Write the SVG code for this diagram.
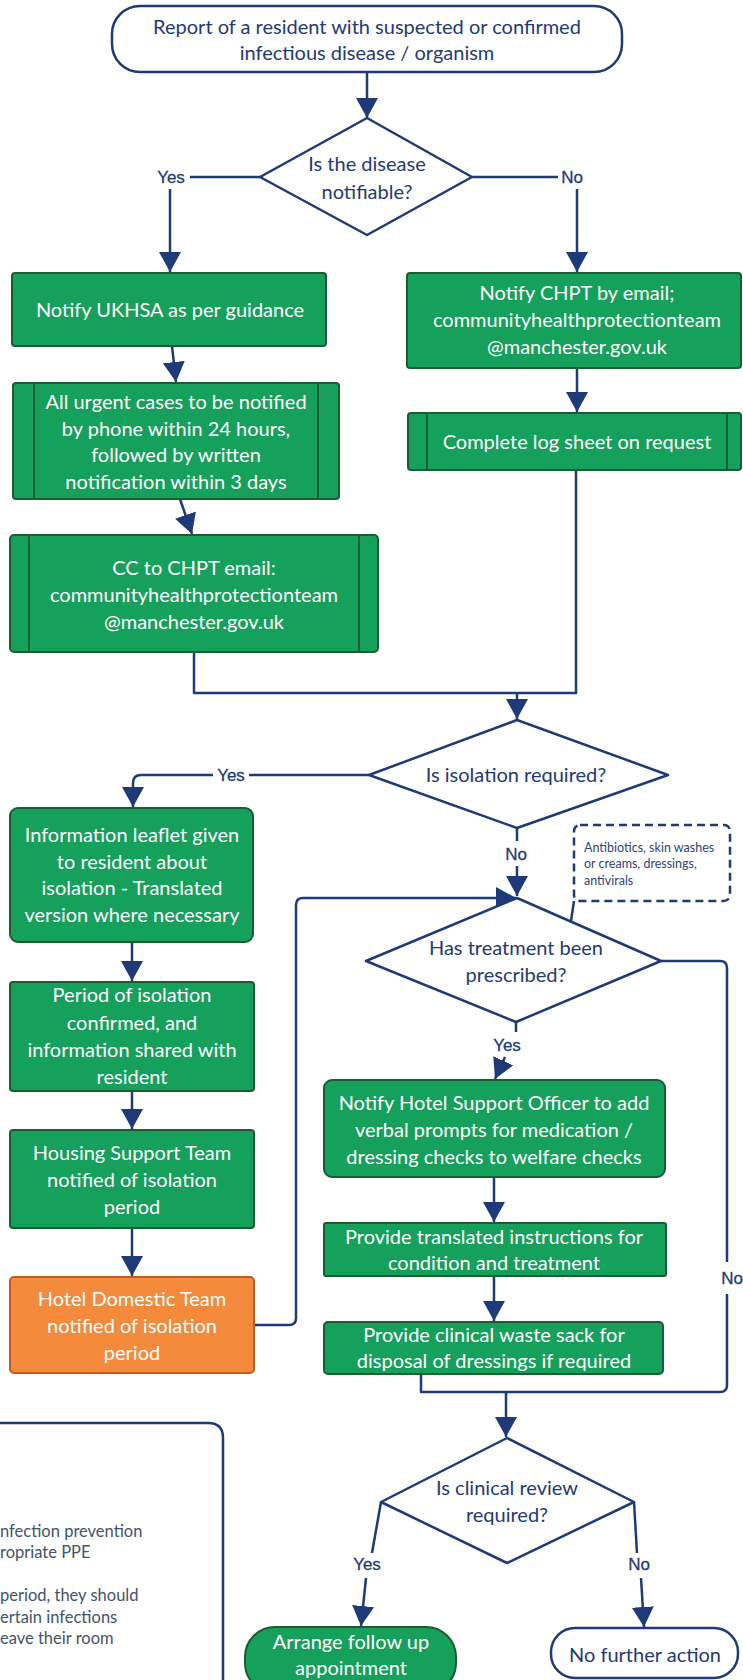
<svg xmlns="http://www.w3.org/2000/svg" width="743" height="1680" viewBox="0 0 743 1680">
<style>
.t{font-family:Lato,"Open Sans","Liberation Sans",sans-serif;font-size:20px;text-anchor:middle}
.w{fill:#ffffff}
.n{fill:#1F3A78}
.g{fill:#15A05B;stroke:#1D5B32;stroke-width:2}
.o{fill:#F48A3C;stroke:#C45A1E;stroke-width:2}
.d{fill:#ffffff;stroke:#1F3A78;stroke-width:2.5;stroke-linejoin:round}
.in{stroke:#1D5B32;stroke-width:2;fill:none}
.c{fill:none;stroke:#1F3A78;stroke-width:2.5;stroke-linejoin:round}
.a{marker-end:url(#ah)}
.lbl{font-family:"Liberation Sans",Arial,sans-serif;font-size:17px;fill:#1F3A78;stroke:#1F3A78;stroke-width:0.3;text-anchor:middle}
.note{font-family:Lato,"Liberation Sans",sans-serif;font-size:12.5px;fill:#2F4478}
.side{font-family:Lato,"Liberation Sans",sans-serif;font-size:16.5px;fill:#44546A}
</style>
<defs>
<marker id="ah" viewBox="0 0 20 22" markerWidth="20" markerHeight="22" refX="20" refY="11" markerUnits="userSpaceOnUse" orient="auto">
<path d="M0,0 L20,11 L0,22 Z" fill="#1F3A78"/>
</marker>
</defs>

<g id="connectors">
<path class="c a" d="M367,72 V118"/>
<path class="c" d="M260,177 H190"/>
<path class="c a" d="M170,189 V272"/>
<path class="c" d="M472,177 H558"/>
<path class="c a" d="M577,189 V272"/>
<path class="c a" d="M172,346 L176,382"/>
<path class="c a" d="M180,499 L192,534"/>
<path class="c a" d="M577,368 V412"/>
<path class="c" d="M194,652 V693 H576 V470"/>
<path class="c a" d="M517,693 V719"/>
<path class="c" d="M369,775 H249"/>
<path class="c a" d="M213,775 H141 Q133,775 133,783 V807"/>
<path class="c" d="M517,828 V841"/>
<path class="c a" d="M517,866 V896"/>
<path class="c a" d="M132,942 V981"/>
<path class="c a" d="M132,1091 V1129"/>
<path class="c a" d="M132,1228 V1276"/>
<path class="c a" d="M254,1325 H289 Q296,1325 296,1318 V905 Q296,898 303,898 H516"/>
<path class="c" d="M574,901 L571,921"/>
<path class="c" d="M516,1022 V1032"/>
<path class="c a" d="M505,1057 L495,1079"/>
<path class="c a" d="M494,1177 V1222"/>
<path class="c a" d="M494,1276 V1321"/>
<path class="c" d="M661,961 H720 Q727,961 727,968 V1262"/>
<path class="c" d="M727,1294 V1385 Q727,1392 720,1392 H421 V1374"/>
<path class="c a" d="M506,1392 V1437"/>
<path class="c" d="M381,1502 L372,1553"/>
<path class="c a" d="M366,1578 L361,1626"/>
<path class="c" d="M634,1502 L637,1553"/>
<path class="c a" d="M641,1578 L644,1627"/>
<text class="lbl" x="171" y="183">Yes</text>
<text class="lbl" x="572" y="183">No</text>
<text class="lbl" x="231" y="781">Yes</text>
<text class="lbl" x="516" y="860">No</text>
<text class="lbl" x="507" y="1051">Yes</text>
<text class="lbl" x="732" y="1284">No</text>
<text class="lbl" x="367" y="1570">Yes</text>
<text class="lbl" x="639" y="1570">No</text>
</g>

<g id="start">
<rect class="d" x="112" y="6" width="510" height="66" rx="28"/>
<text class="t n" x="367" y="33.5">Report of a resident with suspected or confirmed</text>
<text class="t n" x="367" y="59.5">infectious disease / organism</text>
</g>

<g id="q-notifiable">
<path class="d" d="M367,118 L472,177 L367,235 L260,177 Z"/>
<text class="t n" x="367" y="170.5">Is the disease</text>
<text class="t n" x="367" y="198.5">notifiable?</text>
</g>

<g id="notify-ukhsa">
<rect class="g" x="12" y="273" width="314" height="73" rx="3"/>
<text class="t w" x="170" y="316.5">Notify UKHSA as per guidance</text>
</g>

<g id="urgent-cases">
<rect class="g" x="13" y="383" width="326" height="116" rx="3"/>
<path class="in" d="M34,383 V499 M318,383 V499"/>
<text class="t w" x="176" y="409">All urgent cases to be notified</text>
<text class="t w" x="176" y="435.5">by phone within 24 hours,</text>
<text class="t w" x="176" y="462">followed by written</text>
<text class="t w" x="176" y="488.5">notification within 3 days</text>
</g>

<g id="cc-chpt">
<rect class="g" x="10" y="535" width="368" height="117" rx="4"/>
<path class="in" d="M29,535 V652 M359,535 V652"/>
<text class="t w" x="194" y="575">CC to CHPT email:</text>
<text class="t w" x="194" y="602">communityhealthprotectionteam</text>
<text class="t w" x="194" y="629">@manchester.gov.uk</text>
</g>

<g id="notify-chpt">
<rect class="g" x="407" y="273" width="334" height="95" rx="3"/>
<text class="t w" x="577" y="300">Notify CHPT by email;</text>
<text class="t w" x="577" y="327">communityhealthprotectionteam</text>
<text class="t w" x="577" y="354">@manchester.gov.uk</text>
</g>

<g id="log-sheet">
<rect class="g" x="408" y="413" width="333" height="57" rx="3"/>
<path class="in" d="M427,413 V470 M727,413 V470"/>
<text class="t w" x="577" y="448.5">Complete log sheet on request</text>
</g>

<g id="q-isolation">
<path class="d" d="M517,720 L668,775 L517,828 L369,775 Z"/>
<text class="t n" x="516" y="781.5">Is isolation required?</text>
</g>

<g id="info-leaflet">
<rect class="g" x="10" y="808" width="243" height="134" rx="8"/>
<text class="t w" x="132" y="841.5">Information leaflet given</text>
<text class="t w" x="132" y="868.5">to resident about</text>
<text class="t w" x="132" y="894.5">isolation - Translated</text>
<text class="t w" x="132" y="921.5">version where necessary</text>
</g>

<g id="isolation-period">
<rect class="g" x="10" y="982" width="244" height="109" rx="3"/>
<text class="t w" x="132" y="1001.5">Period of isolation</text>
<text class="t w" x="132" y="1029.5">confirmed, and</text>
<text class="t w" x="132" y="1056.5">information shared with</text>
<text class="t w" x="132" y="1083.5">resident</text>
</g>

<g id="housing-team">
<rect class="g" x="10" y="1130" width="244" height="98" rx="3"/>
<text class="t w" x="132" y="1159.5">Housing Support Team</text>
<text class="t w" x="132" y="1186.5">notified of isolation</text>
<text class="t w" x="132" y="1213.5">period</text>
</g>

<g id="domestic-team">
<rect class="o" x="10" y="1277" width="244" height="96" rx="4"/>
<text class="t w" x="132" y="1305.5">Hotel Domestic Team</text>
<text class="t w" x="132" y="1332.5">notified of isolation</text>
<text class="t w" x="132" y="1359.5">period</text>
</g>

<g id="note">
<rect x="574" y="825" width="156" height="76" rx="6" fill="none" stroke="#1F3A78" stroke-width="2.5" stroke-dasharray="8,5"/>
<text class="note" x="584" y="851.5">Antibiotics, skin washes</text>
<text class="note" x="584" y="867.5">or creams, dressings,</text>
<text class="note" x="584" y="884.5">antivirals</text>
</g>

<g id="q-treatment">
<path class="d" d="M517,898 L661,961 L516,1022 L366,961 Z"/>
<text class="t n" x="516" y="954.5">Has treatment been</text>
<text class="t n" x="516" y="981.5">prescribed?</text>
</g>

<g id="notify-hso">
<rect class="g" x="324" y="1080" width="341" height="97" rx="8"/>
<text class="t w" x="494" y="1109.5">Notify Hotel Support Officer to add</text>
<text class="t w" x="494" y="1136.5">verbal prompts for medication /</text>
<text class="t w" x="494" y="1163.5">dressing checks to welfare checks</text>
</g>

<g id="translated-instructions">
<rect class="g" x="324" y="1223" width="342" height="53" rx="2"/>
<text class="t w" x="494" y="1243.5">Provide translated instructions for</text>
<text class="t w" x="494" y="1269.5">condition and treatment</text>
</g>

<g id="waste-sack">
<rect class="g" x="324" y="1322" width="339" height="52" rx="4"/>
<text class="t w" x="494" y="1341.5">Provide clinical waste sack for</text>
<text class="t w" x="494" y="1368">disposal of dressings if required</text>
</g>

<g id="q-review">
<path class="d" d="M507,1438 L634,1502 L507,1563 L381,1502 Z"/>
<text class="t n" x="507" y="1494.5">Is clinical review</text>
<text class="t n" x="507" y="1521.5">required?</text>
</g>

<g id="follow-up">
<rect class="g" x="245" y="1627" width="211" height="66" rx="30"/>
<text class="t w" x="351" y="1648.5">Arrange follow up</text>
<text class="t w" x="351" y="1674.5">appointment</text>
</g>

<g id="no-action">
<rect class="d" x="551" y="1628" width="187" height="50" rx="24"/>
<text class="t n" x="645" y="1661.5">No further action</text>
</g>

<g id="side-note">
<path class="c" d="M-5,1423 H208 Q223,1423 223,1438 V1690"/>
<text class="side" x="0" y="1536.5">nfection prevention</text>
<text class="side" x="0" y="1557.5">ropriate PPE</text>
<text class="side" x="0" y="1600.5"> period, they should</text>
<text class="side" x="0" y="1622.5">ertain infections</text>
<text class="side" x="0" y="1643.5">eave their room</text>
</g>
</svg>
